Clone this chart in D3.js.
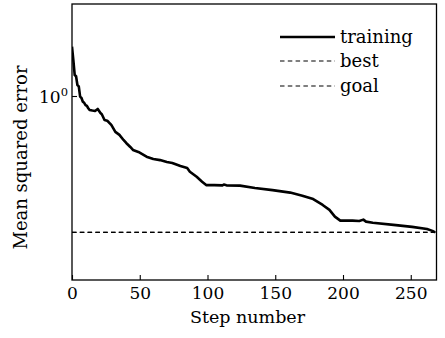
<!DOCTYPE html>
<html>
<head>
<meta charset="utf-8">
<script src="https://cdn.jsdelivr.net/npm/d3@7"></script>
<style>
  html, body { margin: 0; padding: 0; background: #fff; }
  svg { display: block; font-family: "DejaVu Serif", serif; }
</style>
</head>
<body>
<svg id="chart" width="445" height="338"></svg>
<script>
// Training performance: mean squared error per step (log scale)
const steps = [0, 1, 2, 3, 4, 5, 6, 7, 8, 9, 10, 11, 12, 13, 15, 17, 19, 21, 22, 24,
  26, 27, 29, 32, 35, 38, 40, 43, 45,
  49, 55, 60, 65, 70, 74, 80, 85, 87, 92, 96, 99, 105, 111, 112, 114, 124, 135, 148, 161,
  170, 178, 185, 190, 194, 198, 207, 212, 215, 217, 222, 239, 251, 262, 266, 268];
const mse = [1.450, 1.311, 1.171, 1.160, 1.086, 1.075, 0.995, 0.985, 0.958, 0.950,
  0.934, 0.928, 0.912, 0.900, 0.896, 0.893, 0.907, 0.880, 0.872, 0.835,
  0.830, 0.822, 0.804, 0.763, 0.746, 0.718, 0.702, 0.681, 0.666,
  0.656, 0.633, 0.622, 0.617, 0.608, 0.604, 0.590, 0.581, 0.565, 0.544,
  0.524, 0.511, 0.511, 0.510, 0.513, 0.510, 0.509, 0.500, 0.492, 0.483,
  0.472, 0.460, 0.440, 0.424, 0.403, 0.391, 0.391, 0.390, 0.394, 0.388,
  0.385, 0.378, 0.373, 0.367, 0.362, 0.358];
const goalValue = 0.358;
const bestValue = 0.358;
const xTicks = [0, 50, 100, 150, 200, 250];
const yTicks = [1];
const legendLabels = ["training", "best", "goal"];

const svg = d3.select("#chart");
const plot = { left: 72, right: 436.5, top: 4, bottom: 280 };

const x = d3.scaleLinear().domain([0, 269]).range([plot.left, plot.right]);
const y = d3.scaleLog().domain([0.25, 2]).range([plot.bottom, plot.top]);

// clip region for data
svg.append("defs").append("clipPath").attr("id", "clip")
  .append("rect")
  .attr("x", plot.left).attr("y", plot.top)
  .attr("width", plot.right - plot.left).attr("height", plot.bottom - plot.top);

const dash = "4.5,3.3";

// goal and best lines
[goalValue, bestValue].forEach(v => {
  svg.append("line")
    .attr("x1", x(0)).attr("x2", x(269))
    .attr("y1", y(v)).attr("y2", y(v))
    .attr("stroke", "#000").attr("stroke-width", 1.1)
    .attr("stroke-dasharray", dash);
});

// training curve
const line = d3.line().x((d, i) => x(steps[i])).y(d => y(d));
svg.append("path")
  .datum(mse)
  .attr("clip-path", "url(#clip)")
  .attr("fill", "none")
  .attr("stroke", "#000")
  .attr("stroke-width", 2.6)
  .attr("stroke-linejoin", "round")
  .attr("d", line);

// frame
svg.append("rect")
  .attr("x", plot.left).attr("y", plot.top)
  .attr("width", plot.right - plot.left).attr("height", plot.bottom - plot.top)
  .attr("fill", "none").attr("stroke", "#000").attr("stroke-width", 1.3);

// x axis (ticks pointing inward)
const xAxis = svg.append("g")
  .attr("transform", `translate(0,${plot.bottom})`)
  .call(d3.axisBottom(x).tickValues(xTicks).tickSize(-5).tickPadding(7).tickFormat(d3.format("d")));
xAxis.select(".domain").remove();
xAxis.selectAll(".tick line").attr("stroke-width", 1.1);
xAxis.selectAll("text")
  .attr("font-family", "DejaVu Serif").attr("font-size", 17).attr("fill", "#000");

// y axis
const yAxis = svg.append("g")
  .attr("transform", `translate(${plot.left},0)`)
  .call(d3.axisLeft(y).tickValues(yTicks).tickSize(-5).tickPadding(9).tickFormat(() => ""));
yAxis.select(".domain").remove();
yAxis.selectAll(".tick line").attr("stroke-width", 1.1);
yAxis.selectAll(".tick text").each(function (d) {
  const t = d3.select(this)
    .attr("x", -33).attr("text-anchor", "start")
    .attr("font-family", "DejaVu Serif").attr("font-size", 17).attr("fill", "#000")
    .attr("dy", "0.38em");
  t.append("tspan").text("10");
  t.append("tspan").text(String(Math.round(Math.log10(d))))
    .attr("font-size", 11.5).attr("dy", "-0.65em");
});

// axis titles
svg.append("text")
  .attr("x", 247.5).attr("y", 323)
  .attr("text-anchor", "middle")
  .attr("font-size", 17.5)
  .text("Step number");

svg.append("text")
  .attr("transform", "translate(27,157.5) rotate(-90)")
  .attr("text-anchor", "middle")
  .attr("font-size", 18)
  .text("Mean squared error");

// legend
const legend = svg.append("g");
const rows = [37, 61, 86];
legendLabels.forEach((label, i) => {
  legend.append("line")
    .attr("x1", 280).attr("x2", 335)
    .attr("y1", rows[i]).attr("y2", rows[i])
    .attr("stroke", "#000")
    .attr("stroke-width", i === 0 ? 2.6 : 1.1)
    .attr("stroke-dasharray", i === 0 ? null : dash);
  legend.append("text")
    .attr("x", 340).attr("y", rows[i] + 6)
    .attr("font-size", 18)
    .text(label);
});
</script>
</body>
</html>
